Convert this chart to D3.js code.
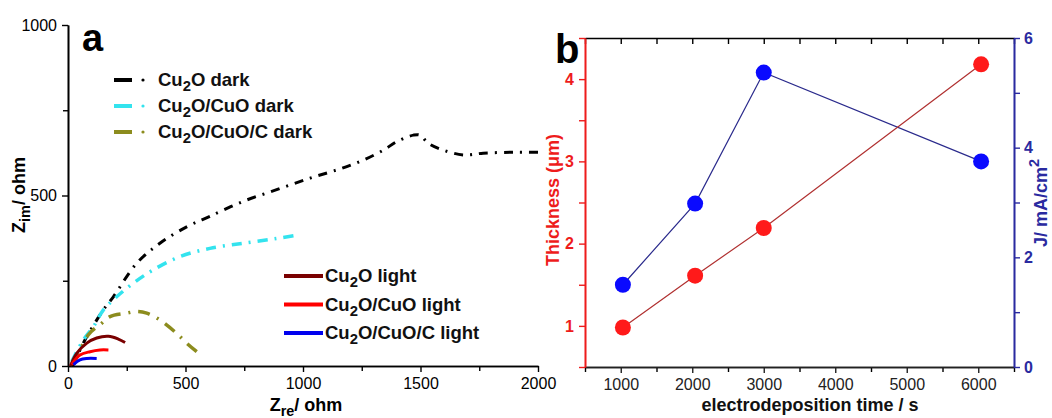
<!DOCTYPE html>
<html>
<head>
<meta charset="utf-8">
<script src="https://cdn.jsdelivr.net/npm/d3@7"></script>
<style>
body { margin: 0; background: #fff; }
svg text { font-family: Arial, "Liberation Sans", sans-serif; }
</style>
</head>
<body>
<script>
// ---- panel a : Nyquist data (Zre, Zim) in ohm
var cu2oDark = [[20,0],[72,76],[150,164],[193,203],[292,301],[391,360],[505,408],[604,439],[746,483],[888,517],[1030,551],[1157,578],[1257,604],[1342,633],[1399,658],[1470,677],[1498,677],[1533,653],[1597,633],[1682,619],[1767,624],[1895,627],[2000,627]];
var cu2oCuoDark = [[16,13],[65,76],[108,115],[150,164],[207,203],[278,243],[363,282],[477,321],[604,345],[746,360],[888,374],[980,384]];
var cu2oCuoCDark = [[25,5],[86,91],[143,125],[179,145],[250,155],[292,160],[335,155],[391,135],[462,96],[505,67],[548,42]];
var cu2oLight = [[10,0],[37,37],[80,67],[122,82],[172,87],[214,79],[243,69]];
var cu2oCuoLight = [[16,4],[51,32],[94,42],[136,47],[172,47]];
var cu2oCuoCLight = [[23,4],[51,18],[80,22],[122,22]];

var zreTicks = [0, 500, 1000, 1500, 2000];
var zreMinor = [250, 750, 1250, 1750];
var zimTicks = [0, 500, 1000];
var zimMinor = [250, 750];

// ---- panel b : thickness and photocurrent vs deposition time
var depTime = [1030, 2040, 3000, 6040];
var thickness = [0.98, 1.61, 2.19, 4.18];
var currentJ = [1.5, 2.98, 5.37, 3.75];

var timeTicks = [1000, 2000, 3000, 4000, 5000, 6000];
var timeMinor = [500, 1500, 2500, 3500, 4500, 5500, 6500];
var thickTicks = [1, 2, 3, 4];
var thickMinor = [0.5, 1.5, 2.5, 3.5, 4.5];
var jTicks = [0, 2, 4, 6];
var jMinor = [1, 3, 5];

var width = 1052, height = 418;
var fmt = d3.format("d");

var svg = d3.select("body").append("svg")
  .attr("width", width)
  .attr("height", height);

function subText(sel, parts, size) {
  parts.forEach(function(p) {
    var t = sel.append("tspan").text(p[0]);
    if (p[1] == 1) t.attr("font-size", size * 0.8).attr("dy", size * 0.28);
    if (p[1] == -1) t.attr("dy", -size * 0.28);
    if (p[1] == 2) t.attr("font-size", size * 0.8).attr("dy", -size * 0.45);
  });
}

function drawAxis(g, axis, color, labelSize, weight) {
  g.call(axis);
  g.selectAll("path.domain").attr("stroke", color).attr("stroke-width", 1.6);
  g.selectAll(".tick line").attr("stroke", color).attr("stroke-width", 1.4);
  g.selectAll(".tick text")
    .attr("fill", color)
    .attr("font-size", labelSize)
    .attr("font-weight", weight)
    .style("font-family", "Arial, 'Liberation Sans', sans-serif");
}

// ================= panel a =================
var xA = d3.scaleLinear().domain([0, 2000]).range([68, 538]);
var yA = d3.scaleLinear().domain([0, 1000]).range([366, 25]);

var ga = svg.append("g").attr("class", "panel-a");

drawAxis(ga.append("g").attr("transform", "translate(0," + yA(0) + ")"),
  d3.axisBottom(xA).tickValues(zreMinor).tickFormat("").tickSize(5).tickSizeOuter(0), "#000", 15, "normal");
drawAxis(ga.append("g").attr("transform", "translate(0," + yA(0) + ")"),
  d3.axisBottom(xA).tickValues(zreTicks).tickFormat(fmt).tickSize(6).tickPadding(6).tickSizeOuter(0), "#000", 16, "normal");
drawAxis(ga.append("g").attr("transform", "translate(" + xA(0) + ",0)"),
  d3.axisLeft(yA).tickValues(zimMinor).tickFormat("").tickSize(5).tickSizeOuter(0), "#000", 15, "normal");
drawAxis(ga.append("g").attr("transform", "translate(" + xA(0) + ",0)"),
  d3.axisLeft(yA).tickValues(zimTicks).tickFormat(fmt).tickSize(6).tickPadding(5).tickSizeOuter(0), "#000", 16, "normal");

var lineA = d3.line().x(function(d) { return xA(d[0]); }).y(function(d) { return yA(d[1]); }).curve(d3.curveCatmullRom);

var seriesA = [
  {data: cu2oDark, color: "#000000", w: 3, dash: "9,7,2,7"},
  {data: cu2oCuoDark, color: "#33e3ee", w: 3.5, dash: "10,7,2,7"},
  {data: cu2oCuoCDark, color: "#8c8c1e", w: 3.5, dash: "12,8,2,8"},
  {data: cu2oLight, color: "#7a0000", w: 3, dash: null},
  {data: cu2oCuoLight, color: "#ff0000", w: 3, dash: null},
  {data: cu2oCuoCLight, color: "#0000ee", w: 3, dash: null}
];

ga.selectAll("path.series")
  .data(seriesA)
  .enter().append("path")
  .attr("class", "series")
  .attr("d", function(d) { return lineA(d.data); })
  .attr("fill", "none")
  .attr("stroke", function(d) { return d.color; })
  .attr("stroke-width", function(d) { return d.w; })
  .attr("stroke-dasharray", function(d) { return d.dash; });

// legends
var legSize = 18.5;
var darkLegend = [
  {parts: [["Cu",0],["2",1],["O dark",-1]], color: "#000000"},
  {parts: [["Cu",0],["2",1],["O/CuO dark",-1]], color: "#33e3ee"},
  {parts: [["Cu",0],["2",1],["O/CuO/C dark",-1]], color: "#8c8c1e"}
];
darkLegend.forEach(function(d, i) {
  var y = 80 + i * 26;
  ga.append("line").attr("x1", 114).attr("x2", 132).attr("y1", y).attr("y2", y)
    .attr("stroke", d.color).attr("stroke-width", 4);
  ga.append("circle").attr("cx", 143).attr("cy", y).attr("r", 1.6).attr("fill", d.color);
  var t = ga.append("text").attr("x", 158).attr("y", y + 6)
    .attr("font-size", legSize).attr("font-weight", "bold").attr("fill", "#111");
  subText(t, d.parts, legSize);
});

var lightLegend = [
  {parts: [["Cu",0],["2",1],["O light",-1]], color: "#7a0000"},
  {parts: [["Cu",0],["2",1],["O/CuO light",-1]], color: "#ff0000"},
  {parts: [["Cu",0],["2",1],["O/CuO/C light",-1]], color: "#0000ee"}
];
lightLegend.forEach(function(d, i) {
  var y = 276 + i * 28.5;
  ga.append("line").attr("x1", 284).attr("x2", 323).attr("y1", y).attr("y2", y)
    .attr("stroke", d.color).attr("stroke-width", 4);
  var t = ga.append("text").attr("x", 325).attr("y", y + 6)
    .attr("font-size", legSize).attr("font-weight", "bold").attr("fill", "#111");
  subText(t, d.parts, legSize);
});

ga.append("text").attr("x", 82).attr("y", 51)
  .attr("font-size", 38).attr("font-weight", "bold").text("a");

var zre = ga.append("text").attr("x", 306).attr("y", 411).attr("text-anchor", "middle")
  .attr("font-size", 18).attr("font-weight", "bold");
subText(zre, [["Z",0],["re",1],["/ ohm",-1]], 18);

var zim = ga.append("text").attr("transform", "translate(25,195) rotate(-90)")
  .attr("text-anchor", "middle").attr("font-size", 18).attr("font-weight", "bold");
subText(zim, [["Z",0],["im",1],["/ ohm",-1]], 18);

// ================= panel b =================
var xB = d3.scaleLinear().domain([500, 6500]).range([585, 1014]);
var yL = d3.scaleLinear().domain([0.5, 4.5]).range([367, 38]);
var yR = d3.scaleLinear().domain([0, 6]).range([367, 38]);

var gb = svg.append("g").attr("class", "panel-b");
var red = "#ee1c1c", navy = "#2a2aa0";

// top axis, ticks inward
drawAxis(gb.append("g").attr("transform", "translate(0," + yL(4.5) + ")"),
  d3.axisBottom(xB).tickValues(timeTicks.concat(timeMinor)).tickFormat("").tickSize(6).tickSizeOuter(0), "#000", 15, "bold");
drawAxis(gb.append("g").attr("transform", "translate(0," + yL(0.5) + ")"),
  d3.axisBottom(xB).tickValues(timeMinor).tickFormat("").tickSize(5).tickSizeOuter(0), "#000", 15, "bold");
drawAxis(gb.append("g").attr("transform", "translate(0," + yL(0.5) + ")"),
  d3.axisBottom(xB).tickValues(timeTicks).tickFormat(fmt).tickSize(6).tickPadding(6).tickSizeOuter(0), "#222", 16, "normal");
drawAxis(gb.append("g").attr("transform", "translate(" + xB(500) + ",0)"),
  d3.axisLeft(yL).tickValues(thickMinor).tickFormat("").tickSize(6).tickSizeOuter(0), red, 15, "bold");
drawAxis(gb.append("g").attr("transform", "translate(" + xB(500) + ",0)"),
  d3.axisLeft(yL).tickValues(thickTicks).tickFormat(fmt).tickSize(6).tickPadding(5).tickSizeOuter(0), red, 16, "bold");
drawAxis(gb.append("g").attr("transform", "translate(" + xB(6500) + ",0)"),
  d3.axisRight(yR).tickValues(jMinor).tickFormat("").tickSize(6).tickSizeOuter(0), navy, 15, "bold");
drawAxis(gb.append("g").attr("transform", "translate(" + xB(6500) + ",0)"),
  d3.axisRight(yR).tickValues(jTicks).tickFormat(fmt).tickSize(6).tickPadding(4).tickSizeOuter(0), navy, 16, "bold");

var lineL = d3.line().x(function(d, i) { return xB(depTime[i]); }).y(function(d) { return yL(d); });
var lineR = d3.line().x(function(d, i) { return xB(depTime[i]); }).y(function(d) { return yR(d); });

gb.append("path").attr("d", lineR(currentJ)).attr("fill", "none")
  .attr("stroke", "#2a2a8c").attr("stroke-width", 1.2);
gb.append("path").attr("d", lineL(thickness)).attr("fill", "none")
  .attr("stroke", "#b03030").attr("stroke-width", 1.2);

gb.selectAll("circle.thick")
  .data(thickness)
  .enter().append("circle")
  .attr("class", "thick")
  .attr("cx", function(d, i) { return xB(depTime[i]); })
  .attr("cy", function(d) { return yL(d); })
  .attr("r", 8)
  .attr("fill", "#ff1a1a");

gb.selectAll("circle.curr")
  .data(currentJ)
  .enter().append("circle")
  .attr("class", "curr")
  .attr("cx", function(d, i) { return xB(depTime[i]); })
  .attr("cy", function(d) { return yR(d); })
  .attr("r", 8)
  .attr("fill", "#0a0aff");

gb.append("text").attr("x", 555).attr("y", 63)
  .attr("font-size", 40).attr("font-weight", "bold").text("b");

gb.append("text").attr("x", 810).attr("y", 411).attr("text-anchor", "middle")
  .attr("font-size", 18).attr("font-weight", "bold").attr("fill", "#111")
  .text("electrodeposition time / s");

gb.append("text").attr("transform", "translate(559,200) rotate(-90)")
  .attr("text-anchor", "middle").attr("font-size", 18).attr("font-weight", "bold")
  .attr("fill", red).text("Thickness (\u03bcm)");

var jl = gb.append("text").attr("transform", "translate(1047,203) rotate(-90)")
  .attr("text-anchor", "middle").attr("font-size", 18).attr("font-weight", "bold")
  .attr("fill", navy);
subText(jl, [["J/ mA/cm",0],["2",2]], 18);
</script>
</body>
</html>
